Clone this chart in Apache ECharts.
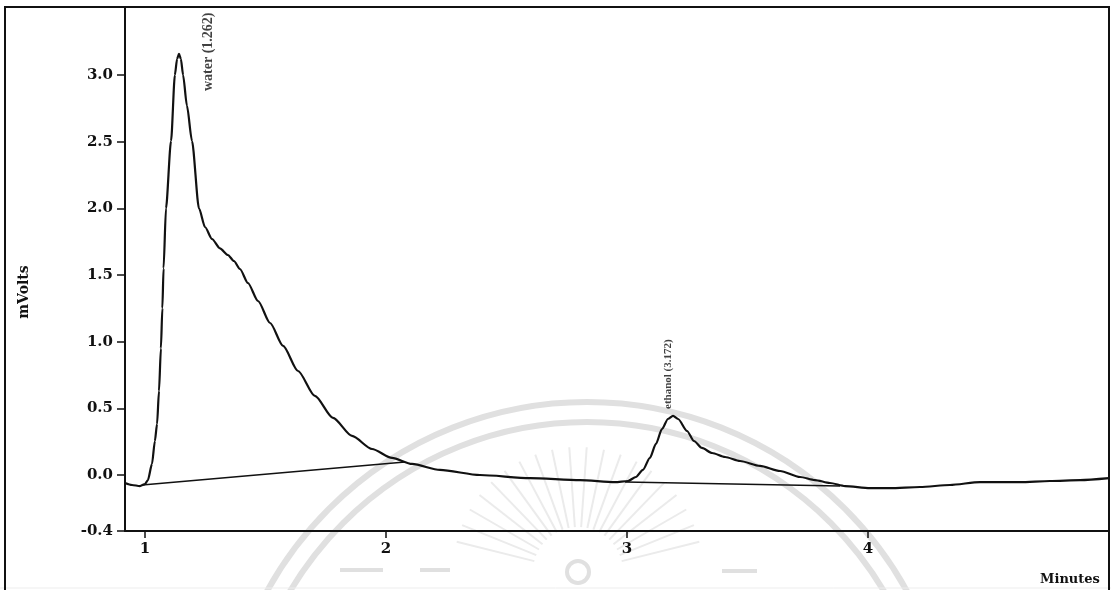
<!DOCTYPE html>
<html>
<head>
<meta charset="utf-8">
<script src="https://cdn.jsdelivr.net/npm/echarts@6/dist/echarts.min.js"></script>
<style>
  html, body { margin: 0; padding: 0; background: #fff; }
  #chart { width: 1111px; height: 590px; }
</style>
</head>
<body>
<div id="chart"></div>
<script>
// Detector trace: retention time (minutes) and signal (mV)
const signalTime = [
  0.917, 0.946, 0.979, 1.000, 1.012, 1.029, 1.041, 1.050, 1.058, 1.066,
  1.072, 1.077, 1.087, 1.108, 1.124, 1.133, 1.141, 1.149, 1.158, 1.174,
  1.195, 1.224, 1.249, 1.278, 1.311, 1.344, 1.369, 1.394, 1.427, 1.469,
  1.519, 1.573, 1.635, 1.705, 1.780, 1.859, 1.942, 2.025, 2.108, 2.224,
  2.390, 2.598, 2.805, 2.950, 3.004, 3.037, 3.066, 3.095, 3.120, 3.145,
  3.170, 3.191, 3.212, 3.249, 3.278, 3.311, 3.353, 3.407, 3.469, 3.552,
  3.635, 3.718, 3.780, 3.842, 3.905, 4.008, 4.091, 4.216, 4.340, 4.465,
  4.631, 4.755, 4.880, 5.000
];
const signalMv = [
  -0.060, -0.075, -0.083, -0.068, -0.038, 0.083, 0.255, 0.383, 0.630, 0.950,
  1.250, 1.550, 2.000, 2.505, 3.000, 3.120, 3.158, 3.120, 3.000, 2.770,
  2.505, 2.000, 1.860, 1.770, 1.700, 1.650, 1.605, 1.545, 1.440, 1.305,
  1.140, 0.968, 0.780, 0.593, 0.428, 0.293, 0.195, 0.128, 0.083, 0.038,
  0.000, -0.023, -0.038, -0.053, -0.045, -0.015, 0.038, 0.128, 0.233, 0.345,
  0.420, 0.443, 0.420, 0.330, 0.255, 0.203, 0.165, 0.135, 0.105, 0.068,
  0.030, -0.015, -0.038, -0.060, -0.083, -0.098, -0.098, -0.090, -0.075, -0.053,
  -0.053, -0.045, -0.038, -0.023
];

// Integration baselines drawn under each peak
const waterBaseTime = [0.988, 2.079];
const waterBaseMv = [-0.075, 0.098];
const ethanolBaseTime = [2.992, 3.884];
const ethanolBaseMv = [-0.053, -0.083];

// Peak annotations
const peakNames = ['water (1.262)', 'ethanol (3.172)'];
const peakTimes = [1.262, 3.172];
const peakLabelMv = [2.88, 0.495];
const peakFontSizes = [14, 11];

// Axis ticks
const xTicks = [1, 2, 3, 4];
const yTicks = [-0.42, 0, 0.5, 1, 1.5, 2, 2.5, 3];

const INK = '#111';
const FONT = 'DejaVu Serif';
const pairs = (xs, ys) => xs.map((x, i) => [x, ys[i]]);

// Faint seal printed behind the plot
const SEAL = '#e0e0e0';
const seal = [
  { type: 'circle', shape: { cx: 587, cy: 767, r: 365 }, style: { fill: 'none', stroke: SEAL, lineWidth: 6 } },
  { type: 'circle', shape: { cx: 587, cy: 767, r: 345 }, style: { fill: 'none', stroke: SEAL, lineWidth: 6 } },
  { type: 'circle', shape: { cx: 578, cy: 572, r: 11 }, style: { fill: 'none', stroke: SEAL, lineWidth: 4 } },
  { type: 'line', shape: { x1: 340, y1: 570, x2: 383, y2: 570 }, style: { stroke: SEAL, lineWidth: 4 } },
  { type: 'line', shape: { x1: 420, y1: 570, x2: 450, y2: 570 }, style: { stroke: SEAL, lineWidth: 4 } },
  { type: 'line', shape: { x1: 722, y1: 571, x2: 757, y2: 571 }, style: { stroke: SEAL, lineWidth: 4 } },
  { type: 'line', shape: { x1: 0, y1: 588, x2: 1111, y2: 588 }, style: { stroke: '#ededed', lineWidth: 1 } }
];
for (let a = 14; a <= 166; a += 8) {
  const rad = a * Math.PI / 180;
  seal.push({
    type: 'line',
    shape: {
      x1: 578 + 45 * Math.cos(rad), y1: 572 - 45 * Math.sin(rad),
      x2: 578 + 125 * Math.cos(rad), y2: 572 - 125 * Math.sin(rad)
    },
    style: { stroke: '#ebebeb', lineWidth: 2 }
  });
}

const chart = echarts.init(document.getElementById('chart'), null, { renderer: 'canvas' });

chart.setOption({
  animation: false,
  backgroundColor: '#fff',
  grid: { left: 125, right: 2, top: 7, bottom: 59, containLabel: false },
  xAxis: {
    type: 'value',
    min: 0.917,
    max: 5.0,
    splitLine: { show: false },
    axisLine: { show: true, onZero: false, lineStyle: { color: INK, width: 2 } },
    axisTick: { show: true, length: 7, customValues: [1, 2, 3, 4, 5], lineStyle: { color: INK, width: 1.5 } },
    axisLabel: {
      customValues: xTicks,
      margin: 11,
      color: INK,
      fontFamily: FONT,
      fontSize: 15,
      fontWeight: 'bold',
      formatter: v => String(v)
    }
  },
  yAxis: {
    type: 'value',
    min: -0.42,
    max: 3.51,
    splitLine: { show: false },
    axisLine: { show: true, onZero: false, lineStyle: { color: INK, width: 2 } },
    axisTick: { show: true, length: 8, customValues: yTicks, lineStyle: { color: INK, width: 1.5 } },
    axisLabel: {
      customValues: yTicks,
      margin: 12,
      color: INK,
      fontFamily: FONT,
      fontSize: 15,
      fontWeight: 'bold',
      formatter: v => v.toFixed(1)
    }
  },
  graphic: seal.concat([
    {
      type: 'rect', z: 10,
      shape: { x: 5, y: 7, width: 1104, height: 620 },
      style: { fill: 'none', stroke: INK, lineWidth: 2 }
    },
    {
      type: 'text', z: 10,
      x: 24, y: 292, rotation: Math.PI / 2,
      style: { text: 'mVolts', fill: INK, font: 'bold 14px "DejaVu Serif"', align: 'center', verticalAlign: 'middle' }
    },
    {
      type: 'text', z: 10,
      x: 1070, y: 580,
      style: { text: 'Minutes', fill: INK, font: 'bold 13px "DejaVu Serif"', align: 'center', verticalAlign: 'middle' }
    }
  ]),
  series: [
    {
      name: 'signal',
      type: 'line',
      data: pairs(signalTime, signalMv),
      showSymbol: false,
      smooth: 0.25,
      smoothMonotone: 'x',
      lineStyle: { color: INK, width: 2.2 },
      z: 3
    },
    {
      name: 'water baseline',
      type: 'line',
      data: pairs(waterBaseTime, waterBaseMv),
      showSymbol: false,
      lineStyle: { color: INK, width: 1.6 },
      z: 3
    },
    {
      name: 'ethanol baseline',
      type: 'line',
      data: pairs(ethanolBaseTime, ethanolBaseMv),
      showSymbol: false,
      lineStyle: { color: INK, width: 1.6 },
      z: 3
    },
    {
      name: 'peaks',
      type: 'scatter',
      symbolSize: 0,
      data: peakTimes.map((t, i) => ({
        value: [t, peakLabelMv[i]],
        label: {
          show: true,
          formatter: peakNames[i],
          position: [0, 0],
          rotate: 90,
          align: 'left',
          verticalAlign: 'middle',
          color: INK,
          fontFamily: 'Liberation Serif',
          fontSize: peakFontSizes[i],
          fontWeight: 'bold'
        }
      })),
      z: 4
    }
  ]
});
</script>
</body>
</html>
